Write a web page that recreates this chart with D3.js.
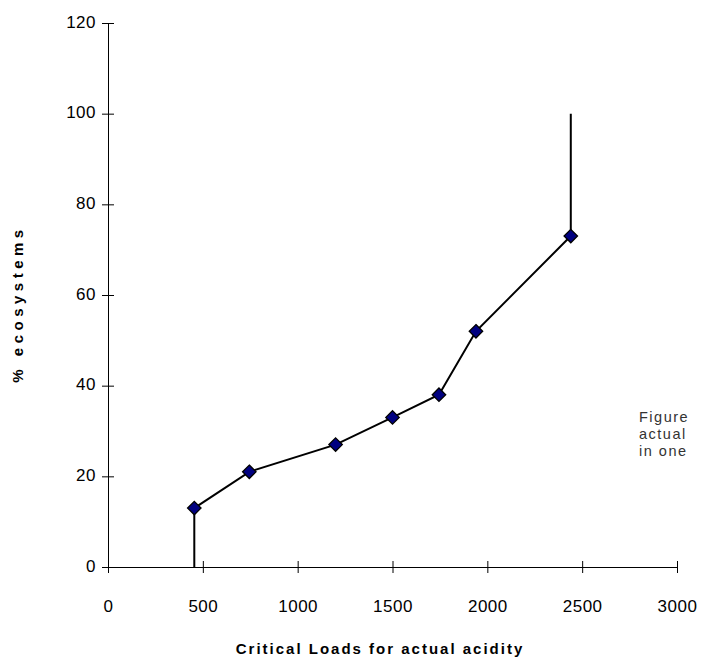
<!DOCTYPE html>
<html>
<head>
<meta charset="utf-8">
<script src="https://cdn.jsdelivr.net/npm/d3@7"></script>
<style>
  body { margin: 0; background: #fff; }
  svg { display: block; }
</style>
</head>
<body>
<svg width="701" height="660"></svg>
<script>
// critical load (x) vs cumulative % ecosystems (y)
var loads = [455, 455, 745, 1200, 1500, 1745, 1940, 2440, 2440];
var percents = [0, 13, 21, 27, 33, 38, 52, 73, 100];
var markerIdx = [1, 2, 3, 4, 5, 6, 7];   // which points get a diamond
var xTicks = [0, 500, 1000, 1500, 2000, 2500, 3000];
var yTicks = [0, 20, 40, 60, 80, 100, 120];
var caption = ["Figure", "actual", "in one"];

var svg = d3.select("svg"),
    plotLeft = 108, plotRight = 677, plotTop = 23, plotBottom = 567;

var x = d3.scaleLinear().domain([0, 3000]).range([plotLeft, plotRight]);
var y = d3.scaleLinear().domain([0, 120]).range([plotBottom, plotTop]);

var font = "'Liberation Sans', Arial, sans-serif";

/* --------- axes, ticks cross the line --------- */
var xAxis = svg.append("g")
    .attr("transform", "translate(0," + plotBottom + ")")
    .call(d3.axisBottom(x).tickValues(xTicks).tickFormat(d3.format("d")).tickSize(0).tickPadding(33));
xAxis.select(".domain").attr("stroke", "#000");
xAxis.selectAll(".tick").append("line")
    .attr("y1", -6).attr("y2", 6).attr("stroke", "#000");
xAxis.selectAll("text")
    .attr("font-family", font).attr("font-size", 17).attr("letter-spacing", 0.5).attr("fill", "#000");

var yAxis = svg.append("g")
    .attr("transform", "translate(" + plotLeft + ",0)")
    .call(d3.axisLeft(y).tickValues(yTicks).tickSize(0).tickPadding(12));
yAxis.select(".domain").attr("stroke", "#000");
yAxis.selectAll(".tick").append("line")
    .attr("x1", -6).attr("x2", 6).attr("stroke", "#000");
yAxis.selectAll("text")
    .attr("font-family", font).attr("font-size", 17).attr("letter-spacing", 0.5).attr("fill", "#000")
    .attr("dy", "0.25em");

/* --------- line + markers --------- */
var pts = loads.map(function(d, i) { return [d, percents[i]]; });

svg.append("path")
    .datum(pts)
    .attr("fill", "none")
    .attr("stroke", "#000")
    .attr("stroke-width", 2)
    .attr("d", d3.line()
        .x(function(d) { return x(d[0]); })
        .y(function(d) { return y(d[1]); }));

svg.append("g").selectAll("path")
    .data(markerIdx.map(function(i) { return pts[i]; }))
    .enter().append("path")
    .attr("transform", function(d) { return "translate(" + x(d[0]) + "," + y(d[1]) + ")"; })
    .attr("d", d3.symbol().type(d3.symbolDiamond2).size(115))
    .attr("fill", "#000080")
    .attr("stroke", "#000")
    .attr("stroke-width", 1.3);

/* --------- titles --------- */
svg.append("text")
    .attr("x", 380).attr("y", 654)
    .attr("text-anchor", "middle")
    .attr("font-family", font)
    .attr("font-size", 15)
    .attr("font-weight", "bold")
    .attr("letter-spacing", 2)
    .text("Critical Loads for actual acidity");

svg.append("text")
    .attr("transform", "translate(23,304) rotate(-90)")
    .attr("text-anchor", "middle")
    .attr("font-family", font)
    .attr("font-size", 15)
    .attr("font-weight", "bold")
    .attr("letter-spacing", 4.5)
    .text("% ecosystems");

// caption text cut off by the right edge
svg.append("g").selectAll("text")
    .data(caption)
    .enter().append("text")
    .attr("x", 639)
    .attr("y", function(d, i) { return 422 + i * 17; })
    .attr("font-family", font)
    .attr("font-size", 14.5)
    .attr("letter-spacing", 1.5)
    .attr("fill", "#333")
    .text(function(d) { return d; });
</script>
</body>
</html>
